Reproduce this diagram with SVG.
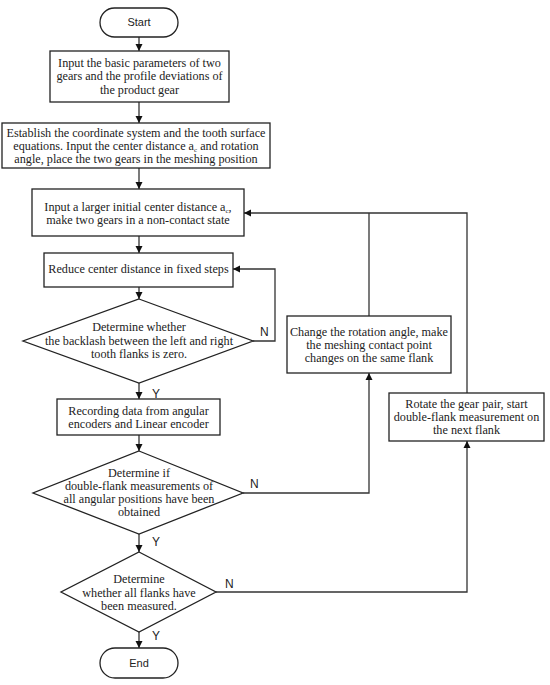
<svg xmlns="http://www.w3.org/2000/svg" width="550" height="685" viewBox="0 0 550 685">
<style>
.b{fill:#fff;stroke:#222;stroke-width:1.3}
.t{font-family:"Liberation Serif",serif;font-size:12.2px;fill:#222;text-anchor:middle}
.s{font-family:"Liberation Sans",sans-serif;font-size:11px;fill:#222;text-anchor:middle}
.l{font-family:"Liberation Sans",sans-serif;font-size:12px;fill:#222}
.c{fill:none;stroke:#333;stroke-width:1.3}
.sub{font-size:7px;baseline-shift:-1.5px}
</style>
<defs>
<marker id="a" markerWidth="8" markerHeight="8" refX="7" refY="4" orient="auto" markerUnits="userSpaceOnUse">
<path d="M0,0.5 L7,4 L0,7.5 Z" fill="#111"/>
</marker>
</defs>
<rect width="550" height="685" fill="#fff"/>
<g id="connectors">
<path class="c" d="M139,37 V51" marker-end="url(#a)"/>
<path class="c" d="M139,102 V123" marker-end="url(#a)"/>
<path class="c" d="M139,168 V189" marker-end="url(#a)"/>
<path class="c" d="M139,236 V253" marker-end="url(#a)"/>
<path class="c" d="M139,287 V299" marker-end="url(#a)"/>
<path class="c" d="M253,341 H275 V269 H233" marker-end="url(#a)"/>
<path class="c" d="M139,383 V399" marker-end="url(#a)"/>
<path class="c" d="M139,435 V451" marker-end="url(#a)"/>
<path class="c" d="M139,534 V552" marker-end="url(#a)"/>
<path class="c" d="M139,632 V648" marker-end="url(#a)"/>
<path class="c" d="M243,493 H369 V373" marker-end="url(#a)"/>
<path class="c" d="M216,592 H467 V441" marker-end="url(#a)"/>
<path class="c" d="M369,316 V213"/>
<path class="c" d="M467,393 V213 H244" marker-end="url(#a)"/>
<text class="l" x="260" y="336">N</text>
<text class="l" x="250" y="488">N</text>
<text class="l" x="225" y="588">N</text>
<text class="l" x="152" y="398">Y</text>
<text class="l" x="152" y="546">Y</text>
<text class="l" x="152" y="640">Y</text>
</g>
<g id="start">
<rect class="b" x="100" y="8" width="78" height="29" rx="14.5"/>
<text class="s" x="139" y="26">Start</text>
</g>
<g id="input-params">
<rect class="b" x="50" y="51" width="179" height="51"/>
<text class="t" x="139.5" y="67">Input the basic parameters of two</text>
<text class="t" x="139.5" y="80">gears and the  profile deviations of</text>
<text class="t" x="139.5" y="94">the product gear</text>
</g>
<g id="establish">
<rect class="b" x="2" y="123" width="268" height="45"/>
<text class="t" x="136" y="137">Establish  the coordinate system and the tooth surface</text>
<text class="t" x="136" y="150">equations. Input the center distance a<tspan class="sub">c</tspan> and rotation</text>
<text class="t" x="136" y="163">angle, place the two gears in the meshing position</text>
</g>
<g id="initial-distance">
<rect class="b" x="32" y="189" width="212" height="47"/>
<text class="t" x="138" y="211">Input a larger initial center distance a<tspan class="sub">c</tspan>,</text>
<text class="t" x="138" y="224">make two gears in a non-contact state</text>
</g>
<g id="reduce">
<rect class="b" x="44" y="253" width="189" height="34"/>
<text class="t" x="138.5" y="273">Reduce center distance in fixed steps</text>
</g>
<g id="backlash">
<polygon class="b" points="139,299 253,341 139,383 23,341"/>
<text class="t" x="139" y="331">Determine whether</text>
<text class="t" x="139" y="345">the backlash between the left and  right</text>
<text class="t" x="139" y="358">tooth flanks is zero.</text>
</g>
<g id="recording">
<rect class="b" x="57" y="399" width="163" height="36"/>
<text class="t" x="138.5" y="415">Recording data from  angular</text>
<text class="t" x="138.5" y="428">encoders and Linear encoder</text>
</g>
<g id="positions">
<polygon class="b" points="139,451 243,493 139,534 33,493"/>
<text class="t" x="139" y="477">Determine if</text>
<text class="t" x="139" y="490">double-flank measurements of</text>
<text class="t" x="139" y="503">all angular positions have been</text>
<text class="t" x="139" y="516">obtained</text>
</g>
<g id="all-flanks">
<polygon class="b" points="139,552 216,592 139,632 61,592"/>
<text class="t" x="139" y="583">Determine</text>
<text class="t" x="139" y="597">whether all flanks have</text>
<text class="t" x="139" y="610">been measured.</text>
</g>
<g id="end">
<rect class="b" x="100" y="648" width="78" height="30" rx="15"/>
<text class="s" x="139" y="667">End</text>
</g>
<g id="change-angle">
<rect class="b" x="287" y="316" width="164" height="57"/>
<text class="t" x="369" y="336">Change the rotation angle, make</text>
<text class="t" x="369" y="349">the meshing contact point</text>
<text class="t" x="369" y="362">changes on the same flank</text>
</g>
<g id="rotate">
<rect class="b" x="389" y="393" width="155" height="48"/>
<text class="t" x="466.5" y="408">Rotate the gear pair, start</text>
<text class="t" x="466.5" y="421">double-flank measurement on</text>
<text class="t" x="466.5" y="434">the next flank</text>
</g>
</svg>
